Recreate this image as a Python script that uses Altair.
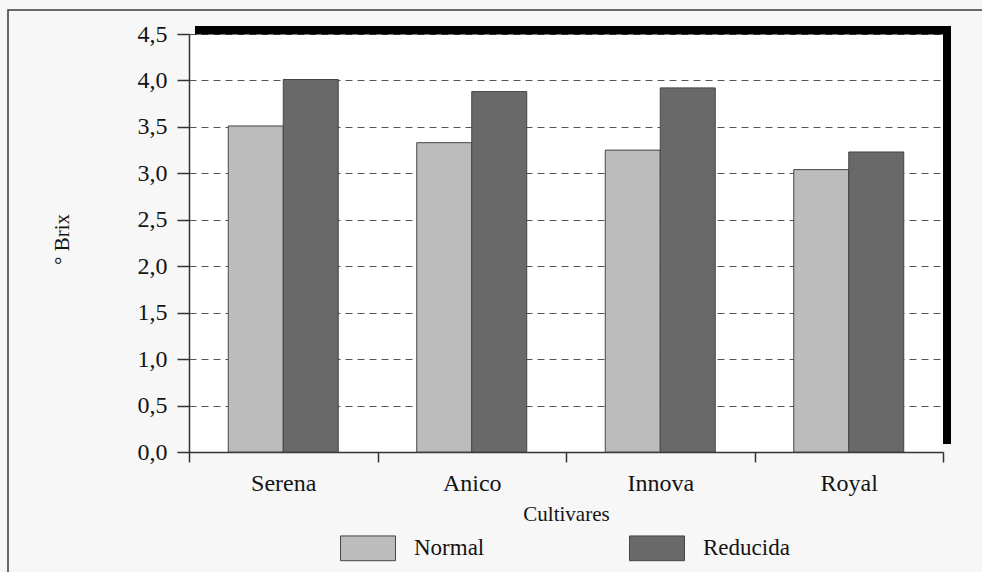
import altair as alt
import pandas as pd

# Sugar content (°Brix) per cultivar under two treatments
cultivares = ["Serena", "Anico", "Innova", "Royal"]
tratamientos = ["Normal", "Reducida"]
brix_normal = [3.51, 3.33, 3.25, 3.04]
brix_reducida = [4.01, 3.88, 3.92, 3.23]

rows = []
for c, n, r in zip(cultivares, brix_normal, brix_reducida):
    rows.append({"cultivar": c, "tratamiento": "Normal", "brix": n})
    rows.append({"cultivar": c, "tratamiento": "Reducida", "brix": r})
df = pd.DataFrame(rows)

W, H = 754, 418
FONT = "Liberation Serif"
TXT = "#141414"

bars = alt.Chart(df).mark_bar(stroke="#454545", strokeWidth=1).encode(
    x=alt.X(
        "cultivar:N",
        sort=cultivares,
        scale=alt.Scale(paddingInner=0, paddingOuter=0),
        axis=alt.Axis(
            title="Cultivares",
            labelAngle=0,
            labelFontSize=24,
            labelPadding=9,
            tickBand="extent",
            tickSize=10,
            titleFontSize=21,
            titlePadding=8,
            titleFontWeight="normal",
        ),
    ),
    xOffset=alt.XOffset(
        "tratamiento:N",
        sort=tratamientos,
        scale=alt.Scale(paddingInner=0, paddingOuter=0.714),
    ),
    y=alt.Y(
        "brix:Q",
        scale=alt.Scale(domain=[0, 4.5], nice=False),
        axis=alt.Axis(
            title="° Brix",
            values=[0, 0.5, 1, 1.5, 2, 2.5, 3, 3.5, 4, 4.5],
            labelExpr="replace(format(datum.value, '.1f'), '.', ',')",
            labelFontSize=24,
            labelPadding=10,
            tickSize=12,
            grid=True,
            gridDash=[7, 5],
            gridColor="#555555",
            gridWidth=1,
            titleFontSize=21,
            titleFontWeight="normal",
            titleAngle=270,
            titleX=-127,
            titleY=205,
            titleAlign="center",
            titleBaseline="middle",
        ),
    ),
    color=alt.Color(
        "tratamiento:N",
        sort=tratamientos,
        scale=alt.Scale(domain=tratamientos, range=["#bcbcbc", "#696969"]),
        legend=alt.Legend(
            title=None,
            orient="none",
            legendX=151,
            legendY=486,
            direction="horizontal",
            symbolType="M-1,-0.45L1,-0.45L1,0.45L-1,0.45Z",
            symbolSize=3025,
            symbolStrokeColor="#454545",
            symbolStrokeWidth=1,
            symbolOpacity=1,
            labelFontSize=23,
            labelOffset=18,
            columnPadding=142,
            padding=0,
        ),
    ),
)

one = alt.Data(values=[{}])

# Heavy black drop shadow along the top and right of the plot frame
shadow_top = alt.Chart(one).mark_rect(color="black").encode(
    x=alt.value(6), x2=alt.value(W + 8), y=alt.value(-8), y2=alt.value(0.6)
)
shadow_right = alt.Chart(one).mark_rect(color="black").encode(
    x=alt.value(W), x2=alt.value(W + 8), y=alt.value(-8), y2=alt.value(H - 8)
)

# Thin outer frame of the figure
frame = alt.Chart(one).mark_rect(
    fill="transparent", stroke="#3a3a3a", strokeWidth=1.5
).encode(
    x=alt.value(-181), x2=alt.value(W + 60), y=alt.value(-24), y2=alt.value(H + 160)
)

chart = (
    alt.layer(frame, bars, shadow_top, shadow_right)
    .properties(
        width=W,
        height=H,
        autosize=alt.AutoSizeParams(type="none"),
        padding={"left": 189, "top": 34, "right": 39, "bottom": 120},
        background="#f7f7f7",
    )
    .configure_view(fill="white", stroke=None)
    .configure_axis(
        labelFont=FONT,
        titleFont=FONT,
        labelColor=TXT,
        titleColor=TXT,
        domainColor="#333333",
        tickColor="#333333",
        domainWidth=1.5,
        tickWidth=1.5,
    )
    .configure_legend(labelFont=FONT, labelColor=TXT)
)

chart.save("out.html", embed_options={"renderer": "svg", "actions": False})
